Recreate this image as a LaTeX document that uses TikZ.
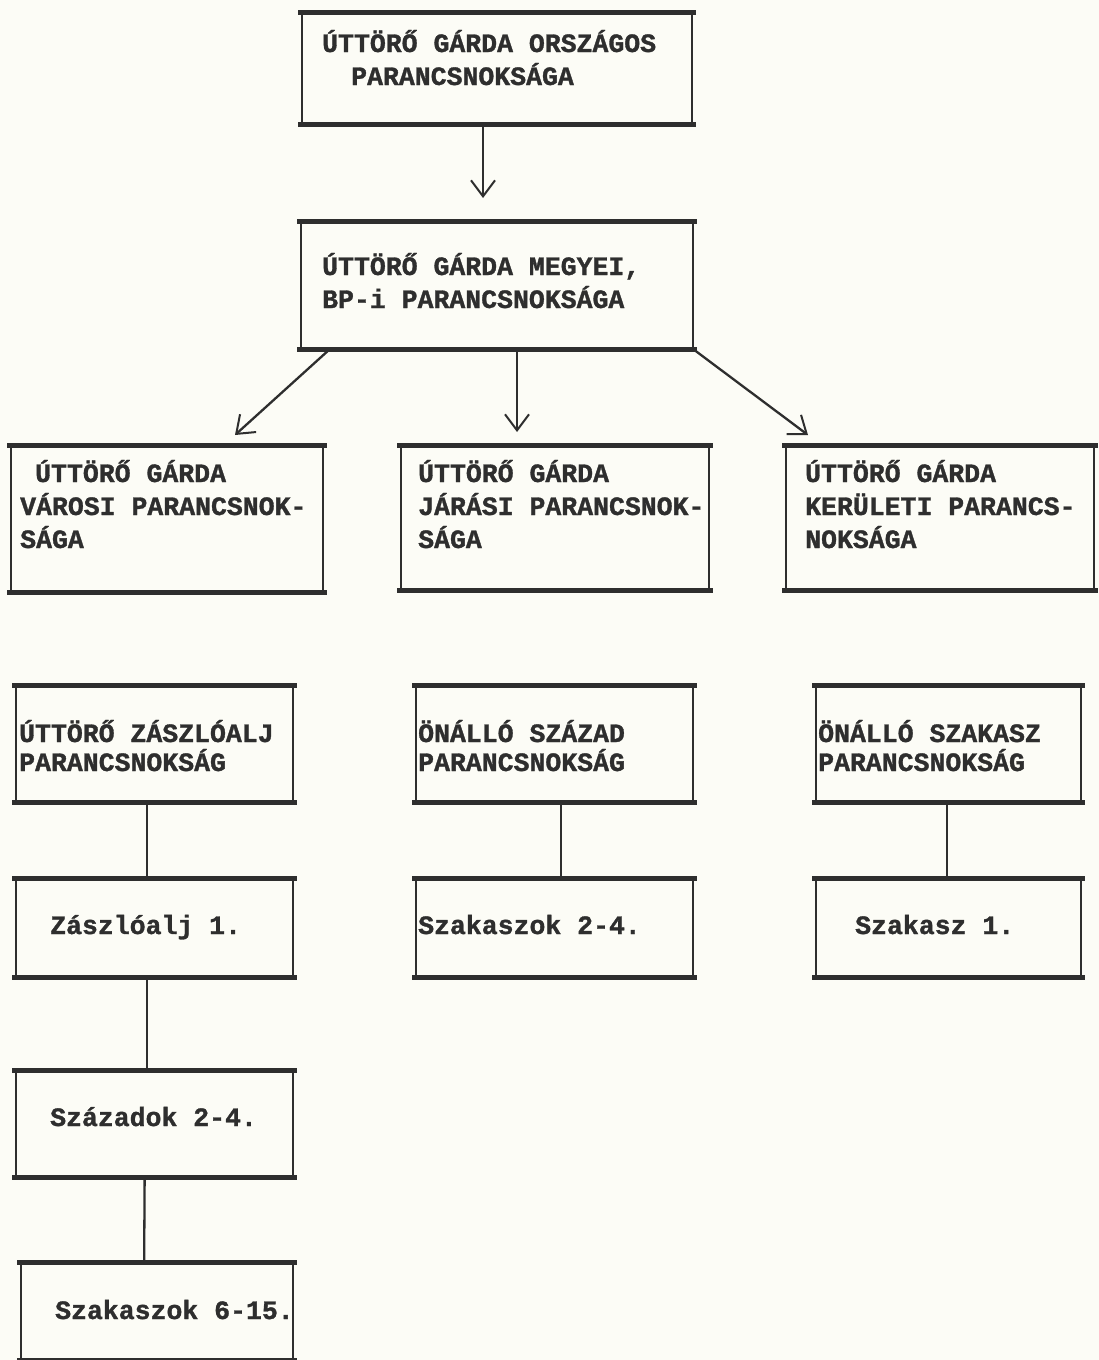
\documentclass[tikz,border=0pt]{standalone}
\usepackage{fontspec}
\setmonofont{Liberation Mono}[BoldFeatures={FakeBold=1.2}]
\usetikzlibrary{arrows.meta}
\definecolor{paper}{HTML}{FCFCF6}
\definecolor{ink}{HTML}{2E2E2E}
\tikzset{
  box/.style={draw=ink, line width=2.3pt, inner sep=0pt, anchor=north west},
  rule/.style={draw=ink, line width=5pt, shorten <=-3pt, shorten >=-3pt},
  lbl/.style={anchor=base west, inner sep=0pt, align=left, text=ink,
    font=\ttfamily\bfseries\fontsize{26.5}{33}\selectfont},
  lblb/.style={lbl, font=\ttfamily\bfseries\fontsize{26.5}{29}\selectfont},
  arr/.style={draw=ink, line width=2.3pt,
    -{Straight Barb[length=16pt,width=24pt,line width=2pt]}},
  conn/.style={draw=ink, line width=2.3pt},
}
\begin{document}
\begin{tikzpicture}[x=1pt,y=-1pt]
\useasboundingbox (0,0) rectangle (1099,1360);
\fill[paper] (0,0) rectangle (1099,1360);

% boxes
\node[box, minimum width=390pt, minimum height=110pt] (b1) at (301,12) {};
\node[box, minimum width=392pt, minimum height=126pt] (b2) at (300,221) {};
\node[box, minimum width=312pt, minimum height=145pt] (bA) at (10,445) {};
\node[box, minimum width=308pt, minimum height=143pt] (bB) at (400,445) {};
\node[box, minimum width=308pt, minimum height=143pt] (bC) at (785,445) {};
\node[box, minimum width=277pt, minimum height=115pt] (bD) at (15,685) {};
\node[box, minimum width=277pt, minimum height=115pt] (bE) at (415,685) {};
\node[box, minimum width=265pt, minimum height=115pt] (bF) at (815,685) {};
\node[box, minimum width=277pt, minimum height=97pt] (bG) at (15,878) {};
\node[box, minimum width=277pt, minimum height=97pt] (bH) at (415,878) {};
\node[box, minimum width=265pt, minimum height=97pt] (bI) at (815,878) {};
\node[box, minimum width=277pt, minimum height=105pt] (bJ) at (15,1070) {};
\node[box, minimum width=272pt, minimum height=96pt] (bK) at (20,1262) {};

% thick top and bottom rules
\foreach \b in {b1,b2,bA,bB,bC,bD,bE,bF,bG,bH,bI,bJ,bK}{
  \draw[rule] (\b.north west) -- (\b.north east);
  \draw[rule] (\b.south west) -- (\b.south east);
}

% texts (base = baseline of the last line)
\node[lbl] (t1) at (322,85) {ÚTTÖRŐ GÁRDA ORSZÁGOS\\\hspace*{29pt}PARANCSNOKSÁGA};
\node[lbl] (t2) at (322,308) {ÚTTÖRŐ GÁRDA MEGYEI,\\BP-i PARANCSNOKSÁGA};
\node[lbl] (tA) at (20,548) {\hspace*{15pt}ÚTTÖRŐ GÁRDA\\VÁROSI PARANCSNOK-\\SÁGA};
\node[lbl] (tB) at (418,548) {ÚTTÖRŐ GÁRDA\\JÁRÁSI PARANCSNOK-\\SÁGA};
\node[lbl] (tC) at (805,548) {ÚTTÖRŐ GÁRDA\\KERÜLETI PARANCS-\\NOKSÁGA};
\node[lblb] (tD) at (19,771) {ÚTTÖRŐ ZÁSZLÓALJ\\PARANCSNOKSÁG};
\node[lblb] (tE) at (418,771) {ÖNÁLLÓ SZÁZAD\\PARANCSNOKSÁG};
\node[lblb] (tF) at (818,771) {ÖNÁLLÓ SZAKASZ\\PARANCSNOKSÁG};
\node[lbl] (tG) at (50,934) {Zászlóalj 1.};
\node[lbl] (tH) at (418,934) {Szakaszok 2-4.};
\node[lbl] (tI) at (855,934) {Szakasz 1.};
\node[lbl] (tJ) at (50,1126) {Századok 2-4.};
\node[lbl] (tK) at (55,1319) {Szakaszok 6-15.};

% arrow endpoints
\coordinate (e1) at (483,198);
\coordinate (eA) at (235,435);
\coordinate (eB) at (517,432);
\coordinate (eC) at (808,435);
\coordinate (s2L) at (330,349);
\coordinate (s2C) at (517,349);
\coordinate (s2R) at (693,349);

% connectors
\draw[arr] (b1.south -| e1) -- (e1);
\draw[arr] (s2L) -- (eA);
\draw[arr] (s2C) -- (eB);
\draw[arr] (s2R) -- (eC);
\draw[conn] ([xshift=-8pt]bD.south) -- ([xshift=-8pt]bG.north);
\draw[conn] ([xshift=-8pt]bG.south) -- ([xshift=-8pt]bJ.north);
\draw[conn] ([xshift=-10pt]bJ.south) -- ([xshift=-13pt]bK.north);
\draw[conn] ([xshift=6pt]bE.south) -- ([xshift=6pt]bH.north);
\draw[conn] ([xshift=-2pt]bF.south) -- ([xshift=-2pt]bI.north);
\end{tikzpicture}
\end{document}
